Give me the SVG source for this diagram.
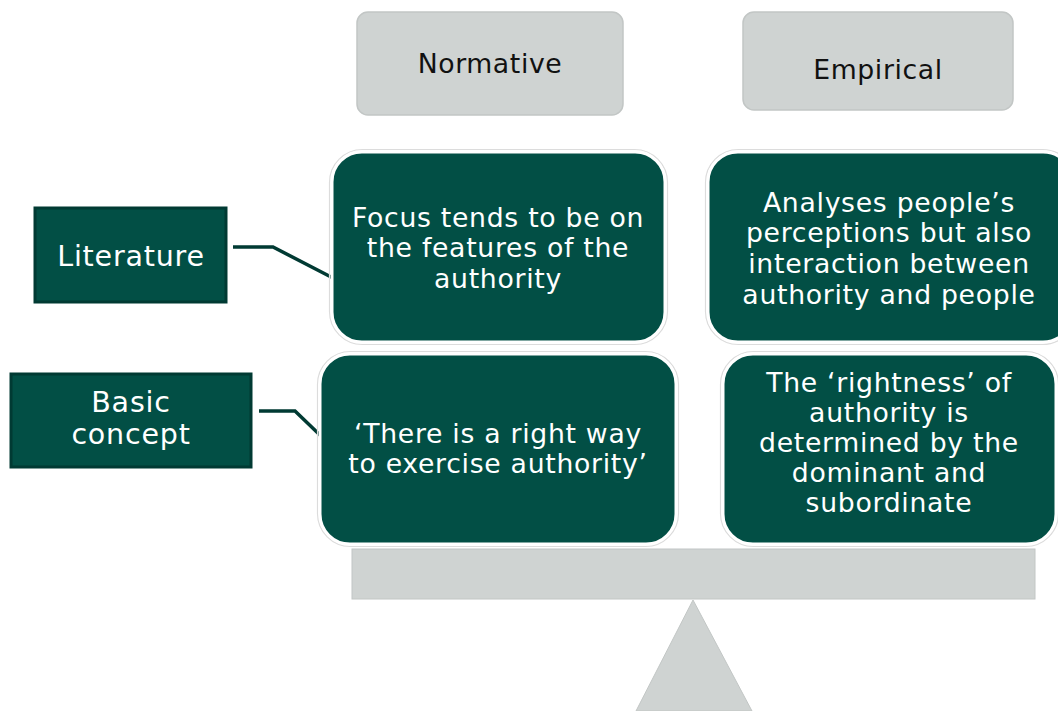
<svg xmlns="http://www.w3.org/2000/svg" width="1058" height="711" viewBox="0 0 1058 711">
<style>
.hdr{fill:#cfd3d2;stroke:#c2c6c5;stroke-width:1.5}
.ht{font-family:"DejaVu Sans",Verdana,sans-serif;font-size:26.7px;fill:#111;text-anchor:middle;letter-spacing:0.6px}
.lab{fill:#024f45;stroke:#013a33;stroke-width:3}
.lt{font-family:"DejaVu Sans",Verdana,sans-serif;font-size:28.5px;fill:#fff;text-anchor:middle;letter-spacing:0.8px}
.card{fill:#024f45;stroke:#fff;stroke-width:3}
.cardo{fill:none;stroke:#dcdcdc;stroke-width:1.2}
.ct{font-family:"DejaVu Sans",Verdana,sans-serif;font-size:26.7px;fill:#fff;text-anchor:middle;letter-spacing:0.7px}
.con{fill:none;stroke:#013a33;stroke-width:3.5;stroke-linejoin:miter}
.grey{fill:#cfd3d2;stroke:#c2c6c5;stroke-width:1}
</style>
<rect width="1058" height="711" fill="#fff"/>
<g id="scale">
<rect class="grey" x="352" y="549" width="683" height="50"/>
<polygon class="grey" points="693,600 636,711 752,711"/>
</g>
<g id="normative"><rect class="hdr" x="357" y="12" width="266" height="103" rx="11"/><text class="ht" x="490" y="73">Normative</text></g>
<g id="empirical"><rect class="hdr" x="743" y="12" width="270" height="98" rx="11"/><text class="ht" x="878" y="79">Empirical</text></g>
<g id="literature"><rect class="lab" x="35" y="208" width="191" height="94"/><text class="lt" x="131" y="266">Literature</text></g>
<g id="basic-concept"><rect class="lab" x="11" y="374" width="240" height="93"/><text class="lt" x="131" y="412">Basic</text><text class="lt" x="131" y="444">concept</text></g>
<g id="connectors">
<polyline class="con" points="233,247 273,247 333,278"/>
<polyline class="con" points="259,411 295,411 322,437"/>
</g>
<g id="n-literature">
<rect class="cardo" x="329.5" y="149.5" width="338" height="195" rx="33"/>
<rect class="card" x="332" y="152" width="333" height="190" rx="30"/>
<text class="ct" x="498" y="227">Focus tends to be on</text>
<text class="ct" x="498" y="257">the features of the</text>
<text class="ct" x="498" y="288">authority</text>
</g>
<g id="e-literature">
<rect class="cardo" x="705.5" y="149.5" width="370" height="195" rx="33"/>
<rect class="card" x="708" y="152" width="365" height="190" rx="30"/>
<text class="ct" x="889" y="212">Analyses people’s</text>
<text class="ct" x="889" y="242">perceptions but also</text>
<text class="ct" x="889" y="273">interaction between</text>
<text class="ct" x="889" y="304">authority and people</text>
</g>
<g id="n-basic">
<rect class="cardo" x="317.5" y="351.5" width="361" height="195" rx="33"/>
<rect class="card" x="320" y="354" width="356" height="190" rx="30"/>
<text class="ct" x="498" y="443">‘There is a right way</text>
<text class="ct" x="498" y="473">to exercise authority’</text>
</g>
<g id="e-basic">
<rect class="cardo" x="720.5" y="351.5" width="338" height="195" rx="33"/>
<rect class="card" x="723" y="354" width="333" height="190" rx="30"/>
<text class="ct" x="889" y="392">The ‘rightness’ of</text>
<text class="ct" x="889" y="422">authority is</text>
<text class="ct" x="889" y="452">determined by the</text>
<text class="ct" x="889" y="482">dominant and</text>
<text class="ct" x="889" y="512">subordinate</text>
</g>
</svg>
